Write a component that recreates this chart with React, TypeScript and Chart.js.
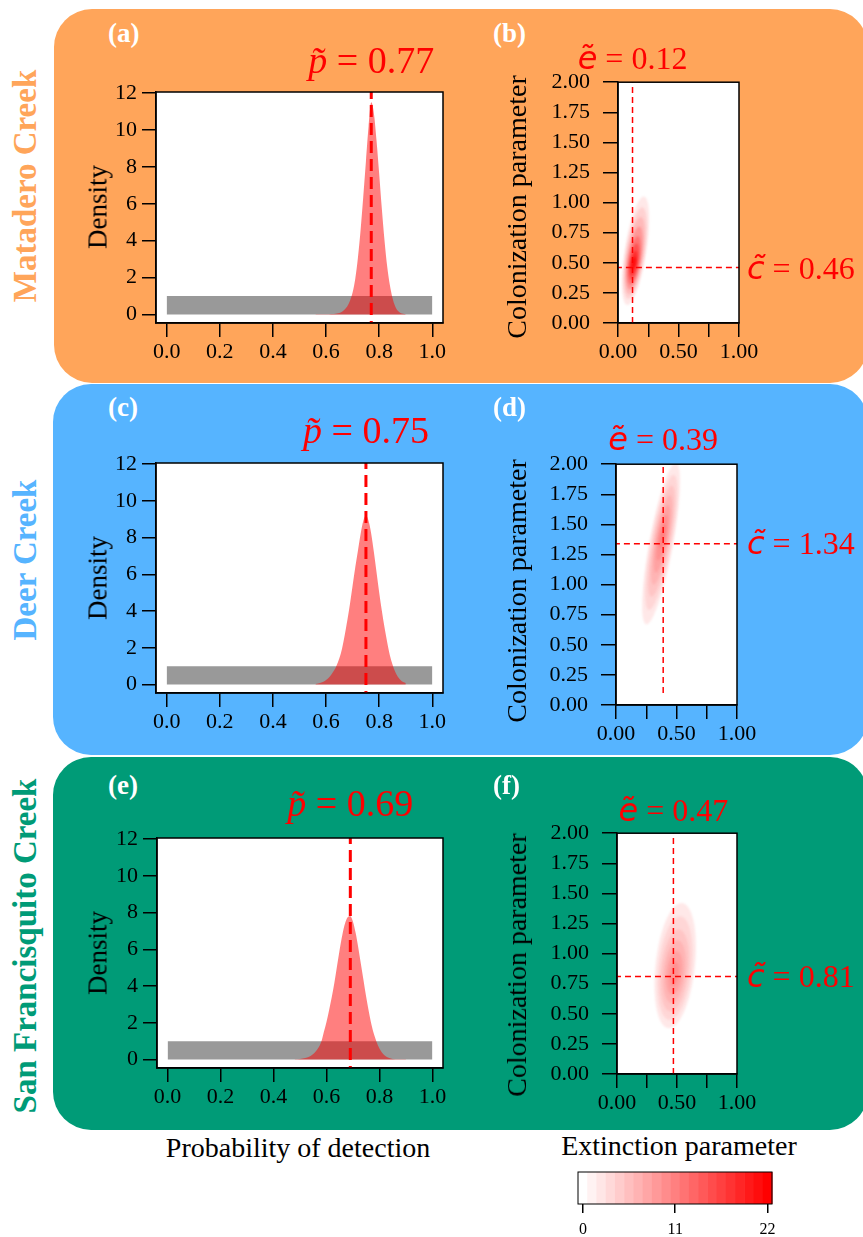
import React, { useEffect, useRef } from 'react';
import { Chart, registerables } from 'chart.js';
Chart.register(...registerables);

const SERIF = '"Liberation Serif", "Times New Roman", Times, serif';
const SANS = '"DejaVu Sans", "Liberation Sans", sans-serif';

// ---------------- data ----------------
const sites = ['Matadero Creek', 'Deer Creek', 'San Francisquito Creek'];
const leftTags = ['(a)', '(c)', '(e)'];
const rightTags = ['(b)', '(d)', '(f)'];
const pTicks = [0, 0.2, 0.4, 0.6, 0.8, 1.0];
const densityTicks = [0, 2, 4, 6, 8, 10, 12];
const eTicks = [0, 0.25, 0.5, 0.75, 1];
const eTickLabels = ['0.00', '', '0.50', '', '1.00'];
const cTicks = [0, 0.25, 0.5, 0.75, 1, 1.25, 1.5, 1.75, 2];
const colorbarTicks = [0, 11, 22];

const pHat = [0.77, 0.75, 0.69];
const eHat = [0.12, 0.39, 0.47];
const cHat = [0.46, 1.34, 0.81];
const eLineFrom = [0, 0.1, 0];

const priorP = [0, 1];
const priorD = [1, 1];

const pGridA = [0.56, 0.60, 0.64, 0.66, 0.68, 0.69, 0.70, 0.71, 0.72, 0.73, 0.74, 0.75, 0.76, 0.77, 0.78, 0.79, 0.80, 0.81, 0.82, 0.83, 0.84, 0.85, 0.86, 0.87, 0.88, 0.90];
const densA = [0.01, 0.02, 0.06, 0.15, 0.45, 0.75, 1.2, 1.95, 3.1, 4.6, 6.4, 8.3, 10.2, 11.5, 10.9, 9.4, 7.6, 5.7, 4.0, 2.6, 1.6, 0.9, 0.45, 0.2, 0.08, 0.02];

const pGridC = [0.56, 0.58, 0.60, 0.62, 0.64, 0.66, 0.68, 0.69, 0.70, 0.71, 0.72, 0.73, 0.74, 0.75, 0.76, 0.77, 0.78, 0.79, 0.80, 0.81, 0.82, 0.83, 0.84, 0.86, 0.88, 0.90];
const densC = [0.03, 0.1, 0.25, 0.55, 1.05, 1.95, 3.5, 4.4, 5.4, 6.4, 7.3, 8.2, 8.9, 9.2, 8.9, 8.2, 7.2, 6.1, 5.0, 4.0, 3.1, 2.3, 1.6, 0.7, 0.25, 0.08];

const pGridE = [0.48, 0.50, 0.52, 0.54, 0.56, 0.58, 0.59, 0.60, 0.61, 0.62, 0.63, 0.64, 0.65, 0.66, 0.67, 0.68, 0.69, 0.70, 0.71, 0.72, 0.73, 0.74, 0.75, 0.76, 0.77, 0.78, 0.80, 0.82, 0.84, 0.86, 0.90];
const densE = [0.01, 0.03, 0.08, 0.2, 0.45, 0.95, 1.5, 2.05, 2.7, 3.4, 4.2, 5.1, 6.0, 6.8, 7.4, 7.75, 7.8, 7.5, 6.9, 6.1, 5.2, 4.3, 3.4, 2.6, 1.9, 1.35, 0.6, 0.22, 0.07, 0.02, 0.01];

// joint posterior density contours (level, centre c, half-height in c, half-width in e)
const blobLevelsB = [2, 4, 6, 9, 12, 15, 18, 21];
const blobCentreCB = [0.6, 0.58, 0.56, 0.54, 0.52, 0.51, 0.5, 0.5];
const blobHalfCB = [0.45, 0.38, 0.32, 0.26, 0.2, 0.15, 0.1, 0.05];
const blobHalfEB = [0.09, 0.078, 0.067, 0.056, 0.046, 0.036, 0.026, 0.016];
const blobAxisB = [0.13, 0.5, 0.15]; // e at reference c, reference c, de/dc

const blobLevelsD = [2, 3.5, 5, 6.5, 8, 9.5, 11];
const blobCentreCD = [1.34, 1.35, 1.36, 1.37, 1.38, 1.39, 1.4];
const blobHalfCD = [0.67, 0.56, 0.46, 0.37, 0.28, 0.19, 0.1];
const blobHalfED = [0.1, 0.086, 0.072, 0.058, 0.045, 0.032, 0.018];
const blobAxisD = [0.38, 1.38, 0.18];

const blobLevelsF = [2, 3.5, 5, 6.5, 8, 9.5];
const blobCentreCF = [0.9, 0.88, 0.86, 0.85, 0.84, 0.83];
const blobHalfCF = [0.52, 0.43, 0.34, 0.26, 0.18, 0.1];
const blobHalfEF = [0.165, 0.14, 0.115, 0.09, 0.065, 0.035];
const blobAxisF = [0.48, 0.85, 0.1];

// ---------------- styling / layout ----------------
const panelColors = ['#FFA55A', '#56B4FF', '#009B77'];
const panelRects = [
  { left: 54, top: 9, width: 814, height: 374 },
  { left: 53, top: 384, width: 815, height: 371 },
  { left: 53, top: 757, width: 815, height: 373 },
];
const densityBoxes = [
  [156, 92, 443, 323],
  [156, 463, 443, 693],
  [157, 838, 443, 1068],
];
const heatBoxes = [
  [618, 81, 739, 323],
  [616, 463, 737, 705],
  [617, 832, 737, 1074],
];
const colorbarBox = [578, 1172, 772, 1204];
const colorbarRange = [-0.6, 22.55];

const ramp = (lv: number) => {
  const g = Math.round(255 * (1 - Math.min(22, Math.max(0, lv)) / 22));
  return `rgb(255,${g},${g})`;
};

const framePlugin = {
  id: 'frame',
  beforeDraw(chart: any) {
    const { ctx, chartArea: a } = chart;
    ctx.save();
    ctx.fillStyle = '#ffffff';
    ctx.fillRect(a.left, a.top, a.right - a.left, a.bottom - a.top);
    ctx.restore();
  },
  afterDatasetsDraw(chart: any) {
    const { ctx, chartArea: a } = chart;
    ctx.save();
    ctx.strokeStyle = '#000';
    ctx.lineWidth = 1.5;
    ctx.strokeRect(a.left, a.top, a.right - a.left, a.bottom - a.top);
    ctx.restore();
  },
};

const tickFont = { family: SERIF, size: 22 };

function axisCommon(tickLength: number, padding: number) {
  return {
    ticks: { font: tickFont, color: '#000', padding, maxRotation: 0, minRotation: 0, autoSkip: false },
    grid: { drawOnChartArea: false, drawTicks: true, tickLength, color: '#000', lineWidth: 1.5 },
    border: { display: true, color: '#000', width: 1.5 },
  };
}

function DensityChart({ idx, p, d }: { idx: number; p: number[]; d: number[] }) {
  const ref = useRef<HTMLCanvasElement>(null);
  const box = densityBoxes[idx];
  const PL = 100, PT = 25, PR = 25, PB = 45;
  const W = box[2] - box[0] + PL + PR;
  const H = box[3] - box[1] + PT + PB;
  useEffect(() => {
    const xc = axisCommon(14, 2);
    const yc = axisCommon(14, 5);
    const chart = new Chart(ref.current as HTMLCanvasElement, {
      type: 'line',
      data: {
        datasets: [
          {
            data: [{ x: pHat[idx], y: -1 }, { x: pHat[idx], y: 13 }],
            borderColor: '#FF0000', borderWidth: 3, borderDash: [12, 6], pointRadius: 0, fill: false,
          },
          {
            data: p.map((x, i) => ({ x, y: d[i] })),
            borderWidth: 0, borderColor: 'rgba(0,0,0,0)', backgroundColor: 'rgba(255,0,0,0.5)',
            fill: 'origin', pointRadius: 0, cubicInterpolationMode: 'monotone',
          },
          {
            data: priorP.map((x, i) => ({ x, y: priorD[i] })),
            borderWidth: 0, borderColor: 'rgba(0,0,0,0)', backgroundColor: '#999999',
            fill: 'origin', pointRadius: 0,
          },
        ],
      } as any,
      options: {
        animation: false, responsive: false, devicePixelRatio: 1, events: [],
        layout: { padding: { left: 0, top: PT, right: PR, bottom: 0 } },
        plugins: { legend: { display: false }, tooltip: { enabled: false } },
        scales: {
          x: {
            type: 'linear', min: -0.04, max: 1.04,
            afterBuildTicks: (s: any) => { s.ticks = pTicks.map((v) => ({ value: v })); },
            afterFit: (s: any) => { s.height = PB; },
            ...xc,
            ticks: { ...xc.ticks, callback: (v: any) => Number(v).toFixed(1) },
          },
          y: {
            type: 'linear', min: -0.46, max: 12.06,
            afterBuildTicks: (s: any) => { s.ticks = densityTicks.map((v) => ({ value: v })); },
            afterFit: (s: any) => { s.width = PL; },
            ...yc,
            ticks: { ...yc.ticks, callback: (v: any) => String(v) },
          },
        },
      } as any,
      plugins: [framePlugin],
    });
    return () => chart.destroy();
  }, []);
  return (
    <canvas ref={ref} width={W} height={H}
      style={{ position: 'absolute', left: box[0] - PL, top: box[1] - PT, width: W, height: H }} />
  );
}

function blobPlugin(levels: number[], centreC: number[], halfC: number[], halfE: number[], axis: number[]) {
  return {
    id: 'blob',
    beforeDatasetsDraw(chart: any) {
      const { ctx, chartArea: a, scales } = chart;
      const xs = scales.x, ys = scales.y;
      ctx.save();
      ctx.beginPath();
      ctx.rect(a.left, a.top, a.right - a.left, a.bottom - a.top);
      ctx.clip();
      ctx.filter = 'blur(0.8px)';
      levels.forEach((lv, i) => {
        ctx.beginPath();
        const N = 96;
        for (let k = 0; k <= N; k++) {
          const t = (k / N) * Math.PI * 2;
          const c = centreC[i] + halfC[i] * Math.sin(t);
          const e = axis[0] + axis[2] * (c - axis[1]) + halfE[i] * Math.cos(t);
          const px = xs.getPixelForValue(e), py = ys.getPixelForValue(c);
          if (k === 0) ctx.moveTo(px, py); else ctx.lineTo(px, py);
        }
        ctx.closePath();
        ctx.fillStyle = ramp(lv);
        ctx.fill();
      });
      ctx.restore();
    },
  };
}

function HeatChart({ idx, levels, centreC, halfC, halfE, axis }: any) {
  const ref = useRef<HTMLCanvasElement>(null);
  const box = heatBoxes[idx];
  const PL = 110, PT = 25, PR = 25, PB = 45;
  const W = box[2] - box[0] + PL + PR;
  const H = box[3] - box[1] + PT + PB;
  useEffect(() => {
    const xc = axisCommon(14, 2);
    const yc = axisCommon(15, 13);
    const dash = { borderColor: '#FF0000', borderWidth: 1.5, borderDash: [6, 4], pointRadius: 0, fill: false };
    const chart = new Chart(ref.current as HTMLCanvasElement, {
      type: 'line',
      data: {
        datasets: [
          { data: [{ x: eHat[idx], y: eLineFrom[idx] }, { x: eHat[idx], y: 2.2 }], ...dash },
          { data: [{ x: -0.1, y: cHat[idx] }, { x: 1.1, y: cHat[idx] }], ...dash },
        ],
      } as any,
      options: {
        animation: false, responsive: false, devicePixelRatio: 1, events: [],
        layout: { padding: { left: 0, top: PT, right: PR, bottom: 0 } },
        plugins: { legend: { display: false }, tooltip: { enabled: false } },
        scales: {
          x: {
            type: 'linear', min: 0, max: 1,
            afterBuildTicks: (s: any) => { s.ticks = eTicks.map((v) => ({ value: v })); },
            afterFit: (s: any) => { s.height = PB; },
            ...xc,
            ticks: { ...xc.ticks, callback: (_v: any, i: number) => eTickLabels[i] },
          },
          y: {
            type: 'linear', min: 0, max: 2,
            afterBuildTicks: (s: any) => { s.ticks = cTicks.map((v) => ({ value: v })); },
            afterFit: (s: any) => { s.width = PL; },
            ...yc,
            ticks: { ...yc.ticks, callback: (v: any) => Number(v).toFixed(2) },
          },
        },
      } as any,
      plugins: [framePlugin, blobPlugin(levels, centreC, halfC, halfE, axis)],
    });
    return () => chart.destroy();
  }, []);
  return (
    <canvas ref={ref} width={W} height={H}
      style={{ position: 'absolute', left: box[0] - PL, top: box[1] - PT, width: W, height: H }} />
  );
}

function ColorBar() {
  const ref = useRef<HTMLCanvasElement>(null);
  const box = colorbarBox;
  const PL = 20, PT = 5, PR = 20, PB = 40;
  const W = box[2] - box[0] + PL + PR;
  const H = box[3] - box[1] + PT + PB;
  useEffect(() => {
    const nBands = 21;
    const bands = {
      id: 'bands',
      beforeDatasetsDraw(chart: any) {
        const { ctx, chartArea: a, scales } = chart;
        const step = (colorbarRange[1] - colorbarRange[0]) / nBands;
        ctx.save();
        for (let k = 0; k < nBands; k++) {
          const x0 = scales.x.getPixelForValue(colorbarRange[0] + k * step);
          const x1 = scales.x.getPixelForValue(colorbarRange[0] + (k + 1) * step);
          ctx.fillStyle = ramp((22 * k) / (nBands - 1));
          ctx.fillRect(x0, a.top, x1 - x0 + 0.5, a.bottom - a.top);
        }
        ctx.strokeStyle = '#000';
        ctx.lineWidth = 1;
        ctx.strokeRect(a.left, a.top, a.right - a.left, a.bottom - a.top);
        ctx.restore();
      },
    };
    const chart = new Chart(ref.current as HTMLCanvasElement, {
      type: 'line',
      data: { datasets: [] },
      options: {
        animation: false, responsive: false, devicePixelRatio: 1, events: [],
        layout: { padding: { left: PL, top: PT, right: PR, bottom: 0 } },
        plugins: { legend: { display: false }, tooltip: { enabled: false } },
        scales: {
          x: {
            type: 'linear', min: colorbarRange[0], max: colorbarRange[1],
            afterBuildTicks: (s: any) => { s.ticks = colorbarTicks.map((v) => ({ value: v })); },
            afterFit: (s: any) => { s.height = PB; },
            ticks: { font: { family: SERIF, size: 16 }, color: '#000', padding: 7, maxRotation: 0, autoSkip: false, callback: (v: any) => String(v) },
            grid: { drawOnChartArea: false, drawTicks: true, tickLength: 9, color: '#000', lineWidth: 1.5 },
            border: { display: false },
          },
          y: { type: 'linear', min: 0, max: 1, display: false },
        },
      } as any,
      plugins: [bands],
    });
    return () => chart.destroy();
  }, []);
  return (
    <canvas ref={ref} width={W} height={H}
      style={{ position: 'absolute', left: box[0] - PL, top: box[1] - PT, width: W, height: H }} />
  );
}

function Txt({ x, y, size, color = '#000', align = 'center', bold = false, children, family = SERIF }: any) {
  const tx = align === 'center' ? '-50%' : align === 'right' ? '-100%' : '0';
  return (
    <div style={{
      position: 'absolute', left: x, top: y - 0.8375 * size, transform: `translateX(${tx})`,
      fontFamily: family, fontSize: size, lineHeight: `${size}px`, color,
      fontWeight: bold ? 'bold' : 'normal', whiteSpace: 'nowrap',
    }}>{children}</div>
  );
}

function VTxt({ cx, cy, size, color = '#000', bold = false, children }: any) {
  return (
    <div style={{
      position: 'absolute', left: cx, top: cy, transform: 'translate(-50%,-50%) rotate(-90deg)',
      fontFamily: SERIF, fontSize: size, lineHeight: `${size}px`, color,
      fontWeight: bold ? 'bold' : 'normal', whiteSpace: 'nowrap',
    }}>{children}</div>
  );
}

const Tilde = ({ ch, sans }: { ch: string; sans?: boolean }) => (
  <span style={{ fontStyle: 'italic', fontFamily: sans ? SANS : SERIF }}>{ch + '\u0303'}</span>
);

export default function App() {
  const titleY = [186, 560, 946];
  const tagBase = [43, 417, 795];
  const pLabBase = [73, 443, 816];
  const eLabBase = [69, 450, 821];
  const densTitleY = [207, 578, 953];
  const colTitleY = [207, 591, 965];
  const densP = [pGridA, pGridC, pGridE];
  const densD = [densA, densC, densE];
  const blobs = [
    [blobLevelsB, blobCentreCB, blobHalfCB, blobHalfEB, blobAxisB],
    [blobLevelsD, blobCentreCD, blobHalfCD, blobHalfED, blobAxisD],
    [blobLevelsF, blobCentreCF, blobHalfCF, blobHalfEF, blobAxisF],
  ];
  return (
    <div style={{ position: 'absolute', left: 0, top: 0, width: 863, height: 1237, background: '#fff', overflow: 'hidden', fontFamily: SERIF }}>
      {panelRects.map((r, i) => (
        <div key={'bg' + i} style={{ position: 'absolute', ...r, background: panelColors[i], borderRadius: 38 }} />
      ))}
      {sites.map((s, i) => (
        <VTxt key={'site' + i} cx={24.5} cy={titleY[i]} size={33} bold color={panelColors[i]}>{s}</VTxt>
      ))}
      {[0, 1, 2].map((i) => {
        const db = densityBoxes[i];
        const hb = heatBoxes[i];
        const pPix = db[0] + ((pHat[i] + 0.04) / 1.08) * (db[2] - db[0]);
        const ePix = hb[0] + eHat[i] * (hb[2] - hb[0]);
        const cPix = hb[3] - (cHat[i] / 2) * (hb[3] - hb[1]);
        return (
          <React.Fragment key={'row' + i}>
            <DensityChart idx={i} p={densP[i]} d={densD[i]} />
            <HeatChart idx={i} levels={blobs[i][0]} centreC={blobs[i][1]} halfC={blobs[i][2]} halfE={blobs[i][3]} axis={blobs[i][4]} />
            <Txt x={108} y={tagBase[i]} size={27} bold color="#fff" align="left">{leftTags[i]}</Txt>
            <Txt x={493} y={tagBase[i]} size={27} bold color="#fff" align="left">{rightTags[i]}</Txt>
            <Txt x={pPix} y={pLabBase[i]} size={38} color="#FF0000"><Tilde ch="p" /> = {pHat[i].toFixed(2)}</Txt>
            <Txt x={ePix} y={eLabBase[i]} size={32} color="#FF0000"><Tilde ch="e" sans /> = {eHat[i].toFixed(2)}</Txt>
            <Txt x={747} y={cPix + 11} size={32} color="#FF0000" align="left"><Tilde ch="c" sans /> = {cHat[i].toFixed(2)}</Txt>
            <VTxt cx={98} cy={densTitleY[i]} size={27}>Density</VTxt>
            <VTxt cx={517} cy={colTitleY[i]} size={28}>Colonization parameter</VTxt>
          </React.Fragment>
        );
      })}
      <Txt x={298} y={1157} size={28}>Probability of detection</Txt>
      <Txt x={679} y={1155} size={28}>Extinction parameter</Txt>
      <ColorBar />
    </div>
  );
}
